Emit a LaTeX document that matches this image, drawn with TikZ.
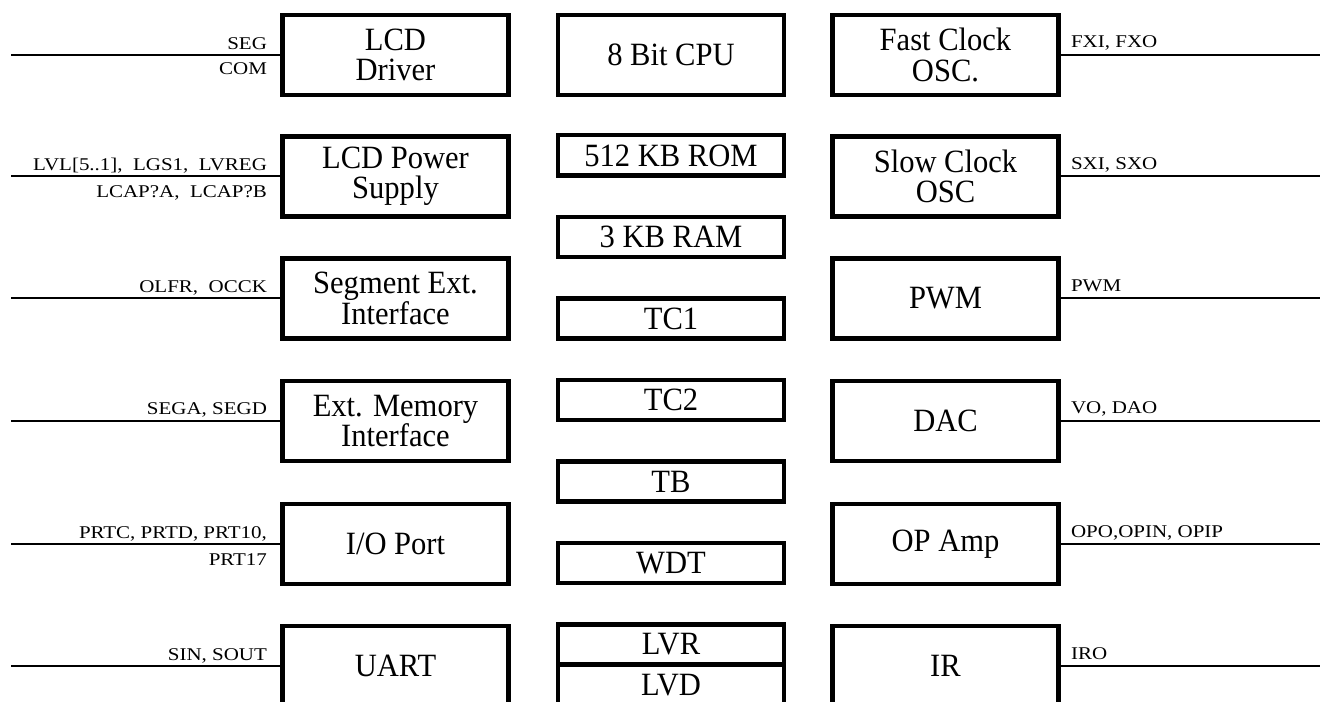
\documentclass[tikz,border=0pt]{standalone}
\usepackage{fontspec}
\setmainfont{Liberation Serif}
\newfontfamily\blkfont[FakeStretch=0.94]{Liberation Serif}
\newfontfamily\sigfont[FakeStretch=1.17]{Liberation Serif}
\usepackage{tikz}
\usetikzlibrary{positioning}

\begin{document}
\begin{tikzpicture}[x=0.02cm,y=-0.02cm,
  blk/.style={draw,line width=0.09cm,outer sep=0pt,minimum width=4.53cm,
    minimum height=1.61cm,inner sep=0pt,align=center,
    font=\blkfont\fontsize{18.5}{17.2}\selectfont},
  thin/.style={blk,minimum height=0.81cm},
  wire/.style={line width=0.04cm},
  sig/.style={inner sep=0pt,font=\sigfont\fontsize{10.2}{12}\selectfont}]
\useasboundingbox (0,0) rectangle (1322,702);
\clip (0,0) rectangle (1322,702);
\coordinate (lend) at (11,0);
\coordinate (rend) at (1320,0);

% left column
\foreach \nm/\txt/\yy in {drv/{LCD\\Driver}/55,pwr/{LCD Power\\Supply}/176.5,
    seg/{Segment Ext.\\Interface}/298.5,mem/{Ext. Memory\\Interface}/421,
    io/{I/O Port}/544,uart/{UART}/666} {
  \node[blk] (\nm) at (395.5,\yy) {\txt};
  \draw[wire] (\nm.west) -- (\nm.west -| lend);
}

% middle column
\node[blk] (cpu) at (671,55) {8 Bit CPU};
\foreach \nm/\txt/\yy in {rom/512 KB ROM/155.5,ram/3 KB RAM/237,tc1/TC1/318.5,
    tc2/TC2/400,tb/TB/481.5,wdt/WDT/563,lvr/LVR/644.5}
  \node[thin] (\nm) at (671,\yy) {\txt};
\node[thin,below=0pt of lvr] (lvd) {LVD};

% right column
\foreach \nm/\txt/\yy in {fosc/{Fast Clock\\OSC.}/55,sosc/{Slow Clock\\OSC}/176.5,
    pwm/{PWM}/298.5,dac/{DAC}/421,opa/{OP Amp}/544,ir/{IR}/666} {
  \node[blk] (\nm) at (945.5,\yy) {\txt};
  \draw[wire] (\nm.east) -- (\nm.east -| rend);
}

% pin names
\node[sig,anchor=base east] (segp) at ([shift={(-15,-5)}]drv.west) {SEG};
\node[sig,anchor=base east] (comp) at ([shift={(-15,20)}]drv.west) {COM};
\node[sig,anchor=base east] (lvlp) at ([shift={(-15,-6)}]pwr.west) {LVL[5..1],\ \ LGS1,\ \ LVREG};
\node[sig,anchor=base east] (capp) at ([shift={(-15,21)}]pwr.west) {LCAP?A,\ \ LCAP?B};
\node[sig,anchor=base east] (olfp) at ([shift={(-15,-6)}]seg.west) {OLFR,\ \ OCCK};
\node[sig,anchor=base east] (sgap) at ([shift={(-15,-6)}]mem.west) {SEGA, SEGD};
\node[sig,anchor=base east] (prtp) at ([shift={(-15,-6)}]io.west) {PRTC, PRTD, PRT10,};
\node[sig,anchor=base east] (p17p) at ([shift={(-15,21)}]io.west) {PRT17};
\node[sig,anchor=base east] (sinp) at ([shift={(-15,-6)}]uart.west) {SIN, SOUT};
\node[sig,anchor=base west] (fxip) at ([shift={(12,-7)}]fosc.east) {FXI, FXO};
\node[sig,anchor=base west] (sxip) at ([shift={(12,-7)}]sosc.east) {SXI, SXO};
\node[sig,anchor=base west] (pwmp) at ([shift={(12,-7)}]pwm.east) {PWM};
\node[sig,anchor=base west] (vop) at ([shift={(12,-7)}]dac.east) {VO, DAO};
\node[sig,anchor=base west] (opop) at ([shift={(12,-7)}]opa.east) {OPO,OPIN, OPIP};
\node[sig,anchor=base west] (irop) at ([shift={(12,-7)}]ir.east) {IRO};
\end{tikzpicture}
\end{document}
